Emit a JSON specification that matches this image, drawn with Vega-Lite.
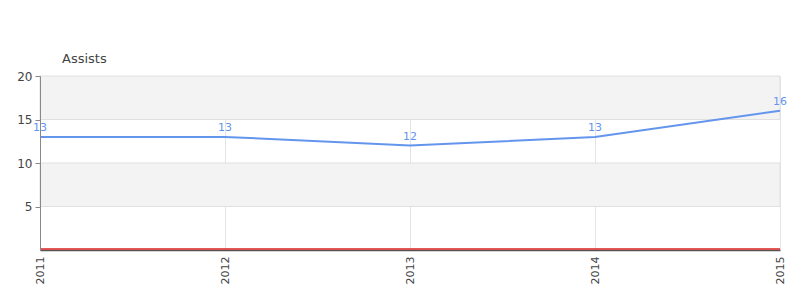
{
  "$schema": "https://vega.github.io/schema/vega-lite/v6.json",
  "autosize": {"type": "none"},
  "width": 740,
  "height": 174,
  "padding": {"left": 40, "top": 76, "right": 20, "bottom": 50},
  "background": "white",
  "title": {"text": "Assists", "anchor": "start", "frame": "group", "dx": 22, "offset": 4, "fontSize": 13, "fontWeight": "normal", "color": "#444444", "font": "DejaVu Sans"},
  "config": {
    "view": {"stroke": null},
    "font": "DejaVu Sans"
  },
  "datasets": {
    "points": [
      {"year": 2011, "assists": 13},
      {"year": 2012, "assists": 13},
      {"year": 2013, "assists": 12},
      {"year": 2014, "assists": 13},
      {"year": 2015, "assists": 16}
    ],
    "baseline": [
      {"year": 2011, "assists": 0},
      {"year": 2015, "assists": 0}
    ],
    "bands": [
      {"x0": 2011, "x1": 2015, "lo": 15, "hi": 20},
      {"x0": 2011, "x1": 2015, "lo": 5, "hi": 10}
    ]
  },
  "layer": [
    {
      "data": {"name": "bands"},
      "mark": {"type": "rect", "fill": "#f3f3f3", "stroke": "#e0e0e0", "strokeWidth": 1},
      "encoding": {
        "x": {"field": "x0", "type": "quantitative"},
        "x2": {"field": "x1"},
        "y": {"field": "lo", "type": "quantitative"},
        "y2": {"field": "hi"}
      }
    },
    {
      "data": {"name": "points"},
      "mark": {"type": "line", "color": "#6495ed", "strokeWidth": 2, "interpolate": "linear"},
      "encoding": {
        "x": {
          "field": "year", "type": "quantitative",
          "scale": {"domain": [2011, 2015], "nice": false, "zero": false},
          "axis": {
            "title": null, "values": [2011, 2012, 2013, 2014, 2015], "format": "d",
            "labelAngle": 270, "labelAlign": "right", "labelBaseline": "middle",
            "labelPadding": 6, "labelFontSize": 11, "labelColor": "#444444",
            "grid": true, "gridColor": "#e4e4e4", "ticks": false,
            "domainColor": "#555555", "domainWidth": 1.5, "labelFlush": false
          }
        },
        "y": {
          "field": "assists", "type": "quantitative",
          "scale": {"domain": [0, 20], "nice": false},
          "axis": {
            "title": null,
            "values": [5, 10, 15, 20],
            "labelFontSize": 12, "labelColor": "#444444", "labelPadding": 3,
            "grid": false,
            "tickColor": "#888888",
            "tickSize": 5,
            "domainColor": "#888888",
            "zindex": 1
          }
        }
      }
    },
    {
      "data": {"name": "points"},
      "mark": {"type": "text", "color": "#6495ed", "fontSize": 11, "dy": -9},
      "encoding": {
        "x": {"field": "year", "type": "quantitative"},
        "y": {"field": "assists", "type": "quantitative"},
        "text": {"field": "assists", "type": "quantitative"}
      }
    },
    {
      "data": {"name": "baseline"},
      "mark": {"type": "line", "color": "#dd2222", "strokeWidth": 1.5, "yOffset": -1},
      "encoding": {
        "x": {"field": "year", "type": "quantitative"},
        "y": {"field": "assists", "type": "quantitative"}
      }
    }
  ]
}
